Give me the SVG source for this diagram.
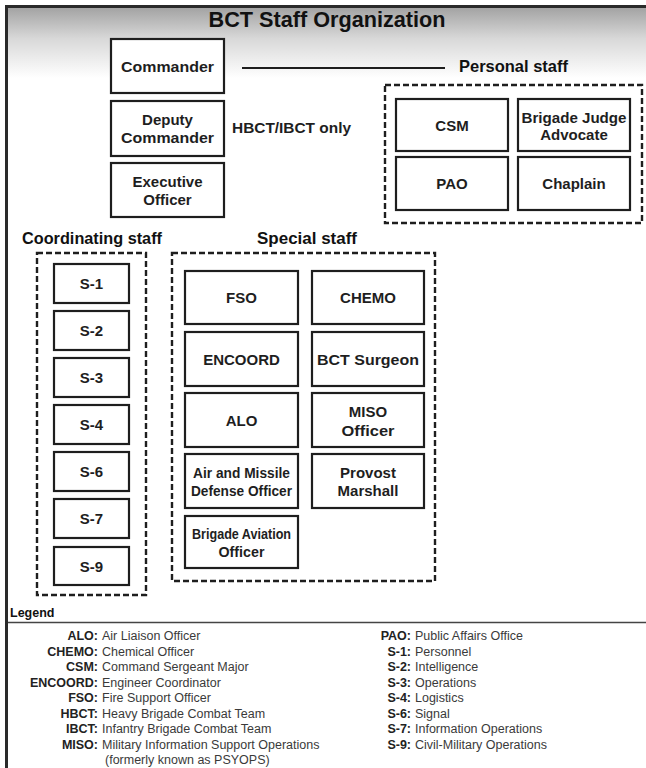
<svg xmlns="http://www.w3.org/2000/svg" width="646" height="768" viewBox="0 0 646 768">
<defs>
<linearGradient id="band" x1="0" y1="0" x2="0" y2="1">
<stop offset="0" stop-color="#a0a0a0"/>
<stop offset="0.45" stop-color="#d8d8d8"/>
<stop offset="1" stop-color="#ffffff"/>
</linearGradient>
</defs>
<style>
.box{fill:#ffffff;stroke:#1e1e1e;stroke-width:2.2}
.dash{fill:none;stroke:#1e1e1e;stroke-width:2.4;stroke-dasharray:6 3}
.t{font-family:"Liberation Sans",Arial,sans-serif;font-weight:bold;font-size:15px;fill:#1e1e1e;text-anchor:middle}
.lbl{font-family:"Liberation Sans",Arial,sans-serif;font-weight:bold;font-size:16.5px;fill:#111}
.lk{font-family:"Liberation Sans",Arial,sans-serif;font-weight:bold;font-size:12.5px;fill:#222;text-anchor:end}
.lv{font-family:"Liberation Sans",Arial,sans-serif;font-size:12.5px;fill:#3a3a3a}
.conn{stroke:#1e1e1e;stroke-width:2;fill:none}
</style>
<rect x="0" y="0" width="646" height="768" fill="#ffffff"/>
<rect x="6" y="6" width="640" height="72" fill="url(#band)"/>
<path d="M6.5 768 V6.5 H646" fill="none" stroke="#2a2a2a" stroke-width="3"/>
<text x="327" y="27" font-family="'Liberation Sans',Arial,sans-serif" font-weight="bold" font-size="22" fill="#111" text-anchor="middle" textLength="237" lengthAdjust="spacingAndGlyphs">BCT Staff Organization</text>

<g id="connectors">
<line class="conn" x1="242" y1="68" x2="445" y2="68"/>
</g>

<g id="commander"><rect class="box" x="111" y="39" width="113" height="54"/><text class="t" x="167.5" y="72" textLength="93" lengthAdjust="spacingAndGlyphs">Commander</text></g>
<g id="deputy-commander"><rect class="box" x="111" y="101" width="113" height="55"/><text class="t" x="167.5" y="125">Deputy</text><text class="t" x="167.5" y="143" textLength="93" lengthAdjust="spacingAndGlyphs">Commander</text></g>
<g id="executive-officer"><rect class="box" x="111" y="163" width="113" height="54"/><text class="t" x="167.5" y="187">Executive</text><text class="t" x="167.5" y="205">Officer</text></g>
<g id="hbct-note"><text class="t" x="232" y="133" style="text-anchor:start" textLength="119" lengthAdjust="spacingAndGlyphs">HBCT/IBCT only</text></g>

<g id="personal-staff">
<text class="lbl" x="459" y="72" textLength="109" lengthAdjust="spacingAndGlyphs">Personal staff</text>
<rect class="dash" x="385" y="85" width="257" height="138"/>
</g>
<g id="csm"><rect class="box" x="396" y="99" width="112" height="52"/><text class="t" x="452" y="130.5">CSM</text></g>
<g id="brigade-judge-advocate"><rect class="box" x="518" y="99" width="112" height="52"/><text class="t" x="574" y="122.5" textLength="105" lengthAdjust="spacingAndGlyphs">Brigade Judge</text><text class="t" x="574" y="140">Advocate</text></g>
<g id="pao"><rect class="box" x="396" y="157" width="112" height="53"/><text class="t" x="452" y="189">PAO</text></g>
<g id="chaplain"><rect class="box" x="518" y="157" width="112" height="53"/><text class="t" x="574" y="189">Chaplain</text></g>

<g id="coordinating-staff">
<text class="lbl" x="22" y="244" textLength="140" lengthAdjust="spacingAndGlyphs">Coordinating staff</text>
<rect class="dash" x="37" y="253" width="109" height="342"/>
</g>
<g id="s1"><rect class="box" x="54" y="264" width="75" height="39"/><text class="t" x="91.5" y="289">S-1</text></g>
<g id="s2"><rect class="box" x="54" y="311" width="75" height="39"/><text class="t" x="91.5" y="336">S-2</text></g>
<g id="s3"><rect class="box" x="54" y="358" width="75" height="39"/><text class="t" x="91.5" y="383">S-3</text></g>
<g id="s4"><rect class="box" x="54" y="405" width="75" height="39"/><text class="t" x="91.5" y="430">S-4</text></g>
<g id="s6"><rect class="box" x="54" y="452" width="75" height="39"/><text class="t" x="91.5" y="477">S-6</text></g>
<g id="s7"><rect class="box" x="54" y="499" width="75" height="39"/><text class="t" x="91.5" y="524">S-7</text></g>
<g id="s9"><rect class="box" x="54" y="547" width="75" height="38"/><text class="t" x="91.5" y="571.5">S-9</text></g>

<g id="special-staff">
<text class="lbl" x="307" y="244" style="text-anchor:middle" textLength="100" lengthAdjust="spacingAndGlyphs">Special staff</text>
<rect class="dash" x="172" y="253" width="263" height="328"/>
</g>
<g id="fso"><rect class="box" x="185" y="271" width="113" height="53"/><text class="t" x="241.5" y="303">FSO</text></g>
<g id="chemo"><rect class="box" x="312" y="271" width="112" height="53"/><text class="t" x="368" y="303">CHEMO</text></g>
<g id="encoord"><rect class="box" x="185" y="332" width="113" height="54"/><text class="t" x="241.5" y="364.5">ENCOORD</text></g>
<g id="bct-surgeon"><rect class="box" x="312" y="332" width="112" height="54"/><text class="t" x="368" y="364.5" textLength="102" lengthAdjust="spacingAndGlyphs">BCT Surgeon</text></g>
<g id="alo"><rect class="box" x="185" y="393" width="113" height="54"/><text class="t" x="241.5" y="425.5">ALO</text></g>
<g id="miso-officer"><rect class="box" x="312" y="393" width="112" height="54"/><text class="t" x="368" y="417">MISO</text><text class="t" x="368" y="435.5" textLength="53" lengthAdjust="spacingAndGlyphs">Officer</text></g>
<g id="air-missile-defense-officer"><rect class="box" x="185" y="454" width="113" height="54"/><text class="t" x="241.5" y="477.5" textLength="97" lengthAdjust="spacingAndGlyphs">Air and Missile</text><text class="t" x="241.5" y="495.5" textLength="101" lengthAdjust="spacingAndGlyphs">Defense Officer</text></g>
<g id="provost-marshall"><rect class="box" x="312" y="454" width="112" height="54"/><text class="t" x="368" y="477.5">Provost</text><text class="t" x="368" y="495.5">Marshall</text></g>
<g id="brigade-aviation-officer"><rect class="box" x="185" y="516" width="113" height="52"/><text class="t" x="241.5" y="538.5" textLength="99" lengthAdjust="spacingAndGlyphs">Brigade Aviation</text><text class="t" x="241.5" y="556.5" textLength="46" lengthAdjust="spacingAndGlyphs">Officer</text></g>

<g id="legend">
<text x="10" y="617" font-family="'Liberation Sans',Arial,sans-serif" font-weight="bold" font-size="12.5" fill="#111">Legend</text>
<line x1="8" y1="622.5" x2="646" y2="622.5" stroke="#444" stroke-width="1.5"/>
<text class="lk" x="98" y="640">ALO:</text><text class="lv" x="102" y="640">Air Liaison Officer</text>
<text class="lk" x="98" y="655.5">CHEMO:</text><text class="lv" x="102" y="655.5">Chemical Officer</text>
<text class="lk" x="98" y="671">CSM:</text><text class="lv" x="102" y="671">Command Sergeant Major</text>
<text class="lk" x="98" y="686.5">ENCOORD:</text><text class="lv" x="102" y="686.5">Engineer Coordinator</text>
<text class="lk" x="98" y="702">FSO:</text><text class="lv" x="102" y="702">Fire Support Officer</text>
<text class="lk" x="98" y="717.5">HBCT:</text><text class="lv" x="102" y="717.5">Heavy Brigade Combat Team</text>
<text class="lk" x="98" y="733">IBCT:</text><text class="lv" x="102" y="733">Infantry Brigade Combat Team</text>
<text class="lk" x="98" y="748.5">MISO:</text><text class="lv" x="102" y="748.5">Military Information Support Operations</text>
<text class="lv" x="105" y="764">(formerly known as PSYOPS)</text>
<text class="lk" x="411" y="640">PAO:</text><text class="lv" x="415" y="640">Public Affairs Office</text>
<text class="lk" x="411" y="655.5">S-1:</text><text class="lv" x="415" y="655.5">Personnel</text>
<text class="lk" x="411" y="671">S-2:</text><text class="lv" x="415" y="671">Intelligence</text>
<text class="lk" x="411" y="686.5">S-3:</text><text class="lv" x="415" y="686.5">Operations</text>
<text class="lk" x="411" y="702">S-4:</text><text class="lv" x="415" y="702">Logistics</text>
<text class="lk" x="411" y="717.5">S-6:</text><text class="lv" x="415" y="717.5">Signal</text>
<text class="lk" x="411" y="733">S-7:</text><text class="lv" x="415" y="733">Information Operations</text>
<text class="lk" x="411" y="748.5">S-9:</text><text class="lv" x="415" y="748.5">Civil-Military Operations</text>
</g>
</svg>
